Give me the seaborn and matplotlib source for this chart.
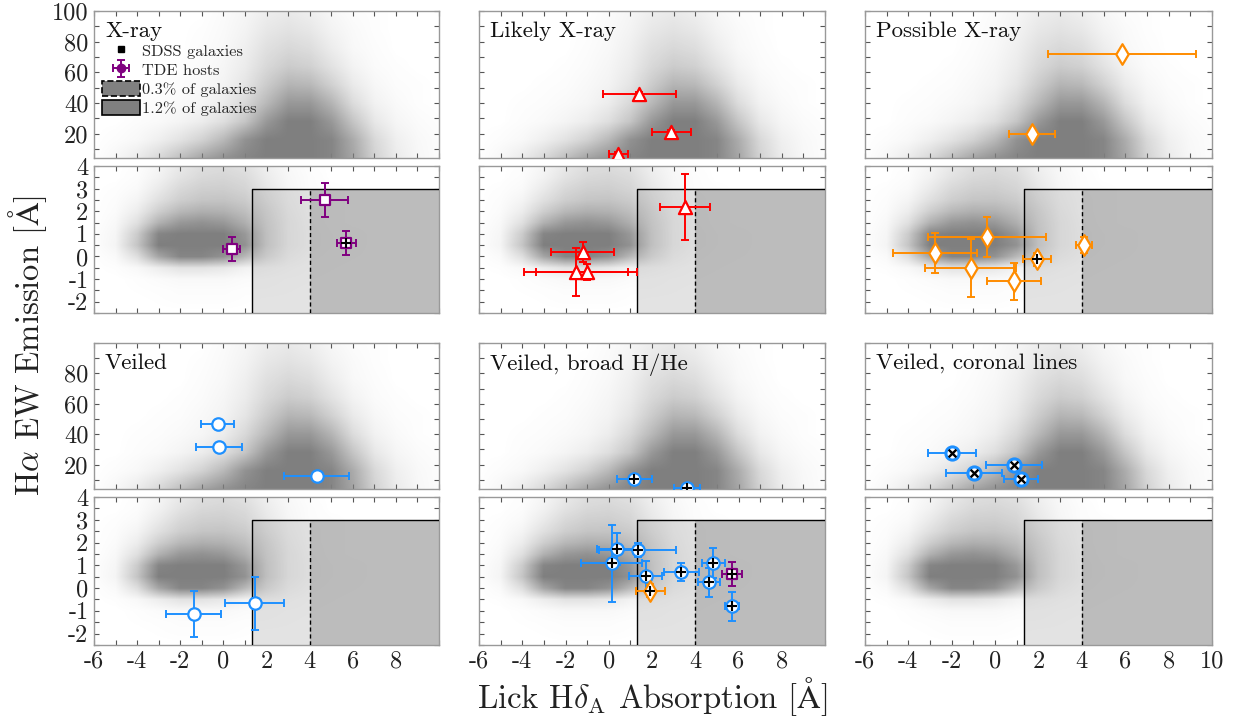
import numpy as np
import matplotlib
matplotlib.use("Agg")
import matplotlib.pyplot as plt
import matplotlib.patches as mpatches
from matplotlib.colors import ListedColormap
from matplotlib.lines import Line2D
import seaborn as sns

XRAY_X = [0.39, 4.69, 5.71]
XRAY_Y = [0.33, 2.5, 0.6]
XRAY_XERR = [0.4, 1.07, 0.45]
XRAY_YERR = [0.55, 0.75, 0.53]
XRAY_BROAD = [False, False, True]

LIKELY_X = [1.42, 2.89, 0.45, 3.54, -1.21, -1.53, -1.02]
LIKELY_Y = [45.8, 21.0, 6.6, 2.19, 0.2, -0.69, -0.69]
LIKELY_XERR = [1.68, 0.9, 0.46, 1.15, 1.45, 2.4, 2.33]
LIKELY_YERR = [1.2, 1.2, 1.2, 1.46, 0.45, 1.07, 0.35]
LIKELY_BROAD = [False] * 7

POSSIBLE_X = [5.84, 1.7, -2.77, -0.38, -1.12, 0.87, 1.93, 4.1]
POSSIBLE_Y = [72.0, 19.7, 0.15, 0.86, -0.51, -1.09, -0.12, 0.5]
POSSIBLE_XERR = [3.4, 1.05, 1.95, 2.73, 2.1, 1.24, 0.65, 0.38]
POSSIBLE_YERR = [1.2, 1.2, 0.88, 0.88, 1.28, 0.82, 0.28, 0.35]
POSSIBLE_BROAD = [False, False, False, False, False, False, True, False]

VEILED_X = [-0.26, -0.21, 4.32, -1.37, 1.45]
VEILED_Y = [46.7, 31.6, 12.6, -1.15, -0.67]
VEILED_XERR = [0.76, 1.06, 1.5, 1.28, 1.36]
VEILED_YERR = [1.2, 1.2, 1.2, 1.0, 1.15]

BROAD_X = [1.19, 3.63, 0.36, 1.33, 0.13, 1.7, 3.35, 4.83, 4.65, 5.7]
BROAD_Y = [10.6, 4.5, 1.71, 1.67, 1.09, 0.52, 0.7, 1.09, 0.26, -0.8]
BROAD_XERR = [0.8, 0.6, 0.92, 1.78, 1.42, 0.77, 0.81, 0.54, 0.5, 0.33]
BROAD_YERR = [1.2, 0.4, 0.7, 0.3, 1.69, 0.66, 0.4, 0.66, 0.63, 0.64]

CORONAL_X = [-1.99, 0.87, -0.98, 1.19]
CORONAL_Y = [27.7, 19.8, 14.5, 10.6]
CORONAL_XERR = [1.1, 1.27, 1.28, 0.8]
CORONAL_YERR = [1.2, 1.2, 1.2, 1.2]

# ---- SDSS galaxy density (0-1 shade) estimated from the grey cloud ----
GRID_X = [-6, -5, -4, -3, -2, -1, 0, 1, 2, 3, 4, 5, 6, 7, 8, 9, 10]
TOP_Y = [4, 16, 28, 40, 52, 64, 76, 88, 100]
TOP_DENS = [
    [0, .06, .15, .30, .50, .70, .85, .95, 1, 1, 1, .95, .70, .35, .15, .06, .02],
    [0, .02, .05, .12, .22, .35, .55, .85, 1, 1, 1, .95, .65, .30, .12, .05, .02],
    [0, 0, .02, .04, .08, .14, .25, .45, .80, 1, 1, .80, .45, .18, .07, .03, .01],
    [0, 0, .01, .02, .04, .07, .14, .30, .55, .80, .80, .58, .27, .10, .04, .01, 0],
    [0, 0, 0, .01, .02, .05, .09, .20, .40, .58, .55, .36, .16, .06, .02, .01, 0],
    [0, 0, 0, 0, .01, .03, .07, .15, .30, .40, .36, .22, .09, .03, .01, 0, 0],
    [0, 0, 0, 0, 0, .02, .05, .12, .24, .30, .26, .14, .05, .02, 0, 0, 0],
    [0, 0, 0, 0, 0, .01, .04, .09, .18, .22, .18, .09, .04, .01, 0, 0, 0],
    [0, 0, 0, 0, 0, 0, .03, .07, .13, .16, .12, .06, .02, .01, 0, 0, 0],
]
BOT_Y = [-2.5, -2, -1.5, -1, -0.5, 0, 0.5, 1, 1.5, 2, 2.5, 3, 3.5, 4]
BOT_DENS = [
    [0, 0, 0, 0, 0, 0, 0, 0, 0, 0, 0, 0, 0, 0, 0, 0, 0],
    [0, 0, 0, .005, .01, .01, .01, .005, 0, 0, 0, 0, 0, 0, 0, 0, 0],
    [0, 0, .005, .01, .02, .02, .02, .01, .01, .005, 0, 0, 0, 0, 0, 0, 0],
    [0, 0, .01, .03, .05, .05, .05, .03, .02, .01, .005, 0, 0, 0, 0, 0, 0],
    [0, .01, .05, .14, .22, .22, .18, .10, .06, .03, .01, .005, 0, 0, 0, 0, 0],
    [0, .04, .25, .70, .95, .95, .85, .55, .25, .08, .03, .01, .005, 0, 0, 0, 0],
    [.01, .08, .45, 1, 1, 1, 1, .85, .35, .12, .05, .02, .01, 0, 0, 0, 0],
    [.01, .07, .40, .95, 1, 1, 1, .80, .35, .12, .05, .02, .01, 0, 0, 0, 0],
    [0, .05, .24, .60, .80, .85, .80, .62, .32, .12, .04, .01, 0, 0, 0, 0, 0],
    [0, .03, .14, .38, .55, .62, .60, .50, .28, .10, .03, .01, 0, 0, 0, 0, 0],
    [0, .02, .08, .24, .38, .45, .46, .40, .22, .08, .03, .01, 0, 0, 0, 0, 0],
    [0, .01, .04, .16, .30, .37, .38, .33, .18, .07, .02, .01, 0, 0, 0, 0, 0],
    [0, 0, .02, .10, .22, .30, .32, .28, .15, .06, .02, 0, 0, 0, 0, 0, 0],
    [0, 0, .01, .07, .17, .25, .27, .23, .12, .05, .01, 0, 0, 0, 0, 0, 0],
]

HDA_CUTS = [1.31, 4.0]   # x edges of the selection boxes
HA_CUT = 3.0             # y top of the selection boxes

PANEL_TITLES = ["X-ray", "Likely X-ray", "Possible X-ray",
                "Veiled", "Veiled, broad H/He", "Veiled, coronal lines"]

PURPLE, RED, ORANGE, BLUE = "#800080", "#ff0000", "#ff8c00", "#1e90ff"

sns.set_theme(style="ticks")
plt.rcParams["font.family"] = ["cmr10", "DejaVu Serif"]
plt.rcParams["mathtext.fontset"] = "cm"
plt.rcParams["axes.unicode_minus"] = False

W, H = 1235, 721
fig = plt.figure(figsize=(W / 100, H / 100), dpi=100)

cols = [(94, 439), (479, 825), (865, 1212)]
rows = [((11, 158), (166, 313)), ((343, 489), (497, 645))]

cloud_cmap = ListedColormap([(0.5, 0.5, 0.5, a) for a in np.linspace(0, 1, 256)])


def make_ax(lr, tb):
    l, r = lr
    t, b = tb
    return fig.add_axes([l / W, 1 - b / H, (r - l) / W, (b - t) / H])


def style_ax(ax):
    for s in ax.spines.values():
        s.set_color("#999999")
        s.set_linewidth(1.0)
    ax.tick_params(which="both", direction="in", top=True, right=True,
                   length=3.5, width=0.8, color="#555555",
                   labelsize=17.5, pad=4, labelcolor="#222222")
    ax.set_xlim(-6, 10)
    ax.set_xticks([-6, -4, -2, 0, 2, 4, 6, 8, 10])
    ax.set_xticks(range(-5, 10, 2), minor=True)


def draw_cloud(ax, gy, dens):
    dx = GRID_X[1] - GRID_X[0]
    dy = gy[1] - gy[0]
    ax.imshow(np.array(dens), origin="lower", cmap=cloud_cmap, vmin=0, vmax=1,
              interpolation="bilinear", aspect="auto", zorder=2,
              extent=[GRID_X[0] - dx / 2, GRID_X[-1] + dx / 2,
                      gy[0] - dy / 2, gy[-1] + dy / 2])


def draw_points(ax_t, ax_b, xs, ys, xe, ye, color, marker, size, overlay=None):
    for ax, keep in ((ax_t, lambda v: v > 4), (ax_b, lambda v: v <= 4)):
        idx = [i for i, v in enumerate(ys) if keep(v)]
        if not idx:
            continue
        px = [xs[i] for i in idx]
        py = [ys[i] for i in idx]
        ax.errorbar(px, py, xerr=[xe[i] for i in idx], yerr=[ye[i] for i in idx],
                    fmt="none", ecolor=color, elinewidth=1.4, capsize=3,
                    capthick=1.4, zorder=4)
        sns.scatterplot(x=px, y=py, marker=marker, s=size, color="white",
                        edgecolor=color, linewidth=1.6, zorder=5, ax=ax,
                        legend=False)
        if overlay is not None:
            ov = [j for j, i in enumerate(idx) if overlay[i]]
            if ov:
                sns.scatterplot(x=[px[j] for j in ov], y=[py[j] for j in ov],
                                marker="+", s=45, color="black", linewidth=1.5,
                                zorder=6, ax=ax, legend=False)


axes = []
for r, (tb_top, tb_bot) in enumerate(rows):
    for c, lr in enumerate(cols):
        ax_t = make_ax(lr, tb_top)
        ax_b = make_ax(lr, tb_bot)
        for ax in (ax_t, ax_b):
            style_ax(ax)
            ax.tick_params(labelbottom=False)
            if c > 0:
                ax.tick_params(labelleft=False)

        # SDSS galaxy cloud
        draw_cloud(ax_t, TOP_Y, TOP_DENS)
        draw_cloud(ax_b, BOT_Y, BOT_DENS)

        ax_t.set_xlim(-6, 10)
        ax_b.set_xlim(-6, 10)
        ax_t.set_ylim(4, 100)
        ax_t.set_yticks([20, 40, 60, 80, 100] if r == 0 else [20, 40, 60, 80])
        ax_t.set_yticks(range(10, 101, 10), minor=True)
        ax_b.set_ylim(-2.5, 4)
        ax_b.set_yticks([-2, -1, 0, 1, 2, 3, 4])
        ax_b.set_yticks(np.arange(-2.5, 4.01, 0.5), minor=True)
        if r == 1:
            ax_b.tick_params(labelbottom=True)
            if c < 2:
                ax_b.set_xticks([-6, -4, -2, 0, 2, 4, 6, 8])
                ax_b.set_xticks(list(range(-5, 10, 2)) + [10], minor=True)

        # selection boxes
        ax_b.add_patch(mpatches.Rectangle((HDA_CUTS[0], -2.5), HDA_CUTS[1] - HDA_CUTS[0],
                                          HA_CUT + 2.5, facecolor="#e3e3e3",
                                          edgecolor="none", zorder=1))
        ax_b.add_patch(mpatches.Rectangle((HDA_CUTS[1], -2.5), 10 - HDA_CUTS[1],
                                          HA_CUT + 2.5, facecolor="#bcbcbc",
                                          edgecolor="none", zorder=1))
        ax_b.plot([HDA_CUTS[0], HDA_CUTS[0], 10], [-2.5, HA_CUT, HA_CUT],
                  color="black", lw=1.0, zorder=3)
        ax_b.plot([HDA_CUTS[1], HDA_CUTS[1]], [-2.5, HA_CUT], color="black",
                  lw=1.0, ls=(0, (3, 2)), zorder=3)

        ax_t.text(0.032, 0.93, PANEL_TITLES[r * 3 + c], transform=ax_t.transAxes,
                  fontsize=16.5, va="top", ha="left", color="#111111", zorder=7)
        axes.append((ax_t, ax_b))

# X-ray
t, b = axes[0]
draw_points(t, b, XRAY_X, XRAY_Y, XRAY_XERR, XRAY_YERR, PURPLE, "s", 50, XRAY_BROAD)
# Likely X-ray
t, b = axes[1]
draw_points(t, b, LIKELY_X, LIKELY_Y, LIKELY_XERR, LIKELY_YERR, RED, "^", 90, LIKELY_BROAD)
# Possible X-ray
t, b = axes[2]
draw_points(t, b, POSSIBLE_X, POSSIBLE_Y, POSSIBLE_XERR, POSSIBLE_YERR, ORANGE, "d", 110,
            POSSIBLE_BROAD)
# Veiled
t, b = axes[3]
draw_points(t, b, VEILED_X, VEILED_Y, VEILED_XERR, VEILED_YERR, BLUE, "o", 80)
# Veiled, broad H/He (plus broad-line objects from other classes)
t, b = axes[4]
draw_points(t, b, BROAD_X, BROAD_Y, BROAD_XERR, BROAD_YERR, BLUE, "o", 80,
            [True] * len(BROAD_X))
sel = [i for i, f in enumerate(POSSIBLE_BROAD) if f]
draw_points(t, b, [POSSIBLE_X[i] for i in sel], [POSSIBLE_Y[i] for i in sel],
            [POSSIBLE_XERR[i] for i in sel], [POSSIBLE_YERR[i] for i in sel],
            ORANGE, "d", 110, [True] * len(sel))
sel = [i for i, f in enumerate(XRAY_BROAD) if f]
draw_points(t, b, [XRAY_X[i] for i in sel], [XRAY_Y[i] for i in sel],
            [XRAY_XERR[i] for i in sel], [XRAY_YERR[i] for i in sel],
            PURPLE, "s", 50, [True] * len(sel))
# Veiled, coronal lines
t, b = axes[5]
t.errorbar(CORONAL_X, CORONAL_Y, xerr=CORONAL_XERR, yerr=CORONAL_YERR, fmt="none",
           ecolor=BLUE, elinewidth=1.4, capsize=3, capthick=1.4, zorder=4)
sns.scatterplot(x=CORONAL_X, y=CORONAL_Y, marker="o", s=90, color="white",
                edgecolor=BLUE, linewidth=2.2, zorder=5, ax=t, legend=False)
sns.scatterplot(x=CORONAL_X, y=CORONAL_Y, marker="x", s=30, color="black",
                linewidth=1.7, zorder=6, ax=t, legend=False)

# legend in the X-ray panel
ax_leg = axes[0][0]
h_sdss = Line2D([], [], ls="none", marker="s", ms=4, color="black")
h_tde = ax_leg.errorbar([np.nan], [np.nan], xerr=[1], yerr=[1], fmt="o", color=PURPLE,
                        ms=6, elinewidth=1.4, capsize=3, capthick=1.4)
h_03 = mpatches.Patch(facecolor="#808080", edgecolor="black", linestyle="--", lw=1.2)
h_12 = mpatches.Patch(facecolor="#808080", edgecolor="black", linestyle="-", lw=1.2)
ax_leg.legend([h_sdss, h_tde, h_03, h_12],
              ["SDSS galaxies", "TDE hosts", "0.3% of galaxies", "1.2% of galaxies"],
              loc="upper left", bbox_to_anchor=(0.0, 0.84), frameon=False,
              fontsize=11.8, handlelength=2.3, handleheight=1.0, handletextpad=0.15,
              labelspacing=0.2, borderpad=0.2, borderaxespad=0.3)

fig.text(28 / W, 1 - 345 / H, r"H$\alpha$ EW Emission [$\mathrm{\AA}$]", rotation=90,
         ha="center", va="center", fontsize=23.5, color="#222222")
fig.text(652 / W, 1 - 697 / H, r"Lick H$\delta_\mathrm{A}$ Absorption [$\mathrm{\AA}$]",
         ha="center", va="center", fontsize=23.5, color="#222222")

fig.savefig("out.png", dpi=100)
